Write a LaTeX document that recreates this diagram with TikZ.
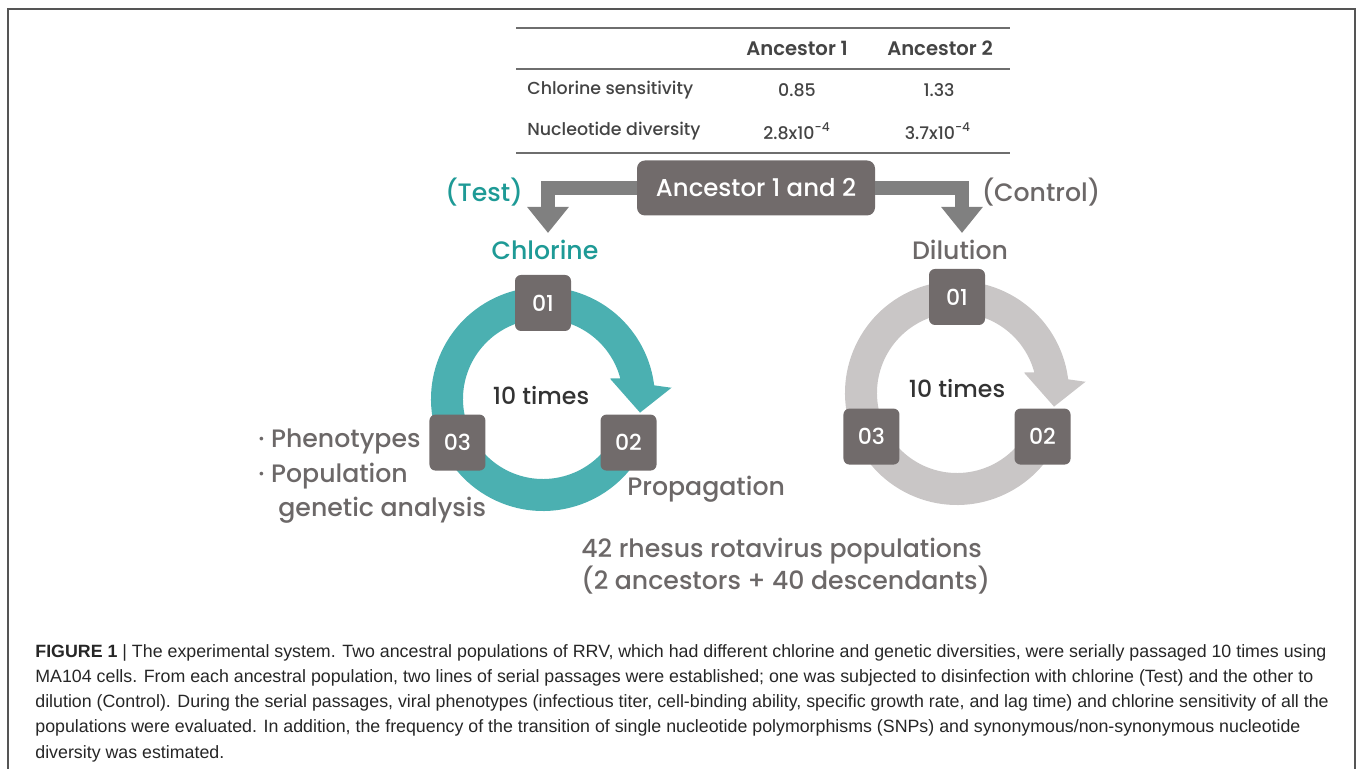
\documentclass[tikz,border=0pt]{standalone}
\usepackage{fontspec}
\setmainfont{Poppins Medium}[BoldFont=Poppins SemiBold]
\newfontfamily\capfont{Liberation Sans}
\usetikzlibrary{arrows.meta,positioning}

\definecolor{ringTeal}{HTML}{4BB0B1}
\definecolor{textTeal}{HTML}{1E9A96}
\definecolor{ringGray}{HTML}{C9C6C6}
\definecolor{boxGray}{HTML}{716B6B}
\definecolor{bandGray}{HTML}{808080}
\definecolor{labGray}{HTML}{6C6868}
\definecolor{tabText}{HTML}{444444}
\definecolor{ruleGray}{HTML}{6E6E6E}
\definecolor{frameGray}{HTML}{555555}

\newcommand{\cycLx}{543}
\newcommand{\cycLy}{399}
\newcommand{\cycRx}{957}
\newcommand{\cycRy}{393}
\newcommand{\rOut}{112}
\newcommand{\rIn }{80}
\newcommand{\rMid}{96}
\newcommand{\tabL}{516}
\newcommand{\tabR}{1010}

\tikzset{
  stepbox/.style={fill=boxGray, rounded corners=3pt, inner sep=0pt,
    minimum width=28pt, minimum height=28pt, text=white,
    font=\fontsize{11}{11}\selectfont},
  ancbox/.style={fill=boxGray, rounded corners=4pt, inner sep=0pt,
    minimum width=119pt, minimum height=27.5pt, text=white,
    font=\fontsize{12.2}{12.2}\selectfont},
  band/.style={draw=bandGray, line width=7pt,
    -{Triangle[width=20pt,length=13pt]}},
  tabcell/.style={text=tabText, inner sep=0pt, font=\fontsize{8.7}{8.7}\selectfont},
  tabhead/.style={tabcell, font=\fontsize{9.8}{9.8}\selectfont\bfseries},
  tabrule/.style={draw=ruleGray, line width=1.4pt},
  lab/.style={inner sep=0pt, text=labGray, font=\fontsize{12.6}{12.6}\selectfont},
  times/.style={inner sep=0pt, text=black!80, font=\fontsize{11.8}{11.8}\selectfont},
}

\begin{document}
\begin{tikzpicture}[x=0.5pt, y=-0.5pt]
  \useasboundingbox (0,0) rectangle (1357,769);

  % Frame:
  \draw[frameGray, line width=0.75pt] (8,769) -- (8,9) -- (1355,9) -- (1355,769);

  % Table:
  \draw[tabrule] (\tabL, 28) -- (\tabR, 28);
  \draw[tabrule] (\tabL, 69) -- (\tabR, 69);
  \draw[tabrule] (\tabL,153) -- (\tabR,153);
  \node[tabhead] (h1) at (797, 48) {Ancestor 1};
  \node[tabhead] (h2) at (940, 48) {Ancestor 2};
  \node[tabcell, anchor=west] (r1) at (527, 90) {Chlorine sensitivity};
  \node[tabcell, anchor=west] (r2) at (527,131) {Nucleotide diversity};
  \node[tabcell] (s1) at (797, 90) {0.85};
  \node[tabcell] (s2) at (939, 90) {1.33};
  \node[tabcell] (d1) at (797,131) {2.8x10\textsuperscript{-4}};
  \node[tabcell] (d2) at (938,131) {3.7x10\textsuperscript{-4}};

  % Ancestor box and split:
  \node[ancbox] (anc) at (756,188) {Ancestor 1 and 2};
  \coordinate (tipL) at (548,233);
  \coordinate (tipR) at (962,233);
  \draw[band] (anc.west) -| (tipL);
  \draw[band] (anc.east) -| (tipR);
  \node[lab, text=textTeal] (test) at (484,192) {(Test)};
  \node[lab] (ctrl) at (1041,192) {(Control)};
  \node[lab, text=textTeal] (chl) at (545,250) {Chlorine};
  \node[lab] (dil) at (960,250) {Dilution};

  % Test cycle:
  \begin{scope}[shift={(\cycLx,\cycLy)}]
    \fill[ringTeal] (25:\rOut) arc (25:353:\rOut) -- (355:129) -- (368:98)
      -- (343:70) -- (345:\rIn) arc (345:25:\rIn) -- cycle;
    \node[stepbox] (l01) at (270:\rMid) {01};
    \node[stepbox] (l02) at ( 27:\rMid) {02};
    \node[stepbox] (l03) at (153:\rMid) {03};
    \node[times] (ltimes) at (-2,-3) {10 times};
  \end{scope}

  % Control cycle:
  \begin{scope}[shift={(\cycRx,\cycRy)}]
    \fill[ringGray] (25:\rOut) arc (25:353:\rOut) -- (355:129) -- (368:98)
      -- (343:70) -- (345:\rIn) arc (345:25:\rIn) -- cycle;
    \node[stepbox] (r01) at (270:\rMid) {01};
    \node[stepbox] (r02) at ( 27:\rMid) {02};
    \node[stepbox] (r03) at (153:\rMid) {03};
    \node[times] (rtimes) at (0,-4) {10 times};
  \end{scope}

  % Labels round the test cycle:
  \node[lab, anchor=west] (phen) at (258,441) {· Phenotypes};
  \node[lab, anchor=west] (popu) at (258,476) {· Population};
  \node[lab, anchor=west] (gena) at (278,510) {genetic analysis};
  \node[lab, anchor=west] (prop) at (627,489) {Propagation};
  \node[lab, anchor=west, align=left] (pops) at (581,566)
    {42 rhesus rotavirus populations\\(2 ancestors + 40 descendants)};

  % Caption:
  \node[anchor=north west, inner sep=0pt, align=left, text=black!85,
    font=\capfont\fontsize{8.9}{12.6}\selectfont] (cap) at (35,644)
    {\textbf{FIGURE 1} | The experimental system. Two ancestral populations of RRV, which had different chlorine and genetic diversities, were serially passaged 10 times using\\
     MA104 cells. From each ancestral population, two lines of serial passages were established; one was subjected to disinfection with chlorine (Test) and the other to\\
     dilution (Control). During the serial passages, viral phenotypes (infectious titer, cell-binding ability, specific growth rate, and lag time) and chlorine sensitivity of all the\\
     populations were evaluated. In addition, the frequency of the transition of single nucleotide polymorphisms (SNPs) and synonymous/non-synonymous nucleotide\\
     diversity was estimated.};

\end{tikzpicture}
\end{document}
